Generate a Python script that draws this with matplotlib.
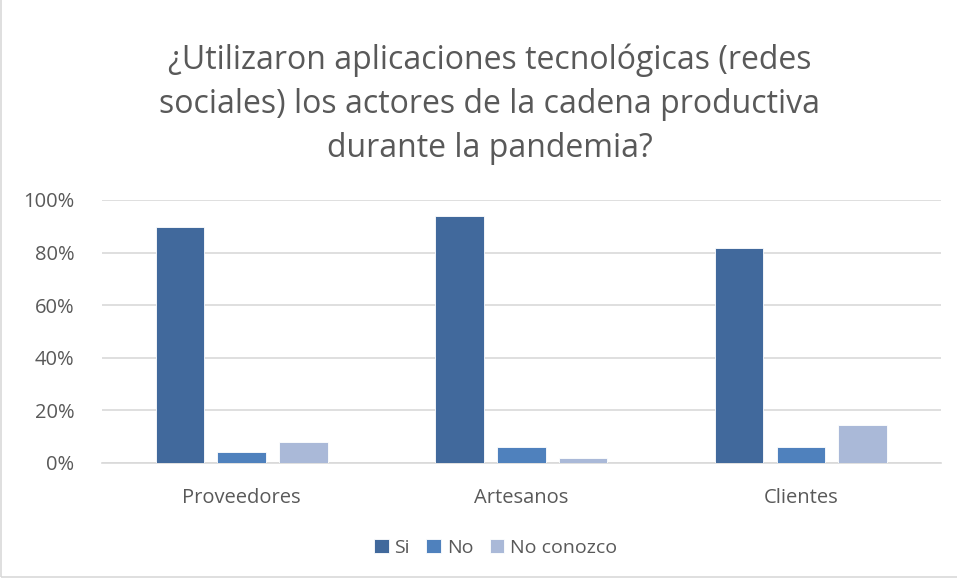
import numpy as np
import matplotlib.pyplot as plt
from matplotlib.ticker import PercentFormatter

categorias = ['Proveedores', 'Artesanos', 'Clientes']
series = ['Si', 'No', 'No conozco']
si = [0.896, 0.939, 0.816]
no = [0.04, 0.06, 0.06]
no_conozco = [0.08, 0.02, 0.143]
colores = ['#41699C', '#4F81BD', '#AAB9D8']

plt.rcParams['font.family'] = ['Open Sans', 'DejaVu Sans']
gris = '#595959'

fig = plt.figure(figsize=(9.57, 5.78), dpi=100)
ax = fig.add_axes([0.1065, 0.199, 0.8765, 0.455])

x = np.arange(len(categorias))
ancho = 0.174
paso = 0.221
for i, (nombre, vals) in enumerate(zip(series, [si, no, no_conozco])):
    ax.bar(x + (i - 1) * paso, vals, ancho, color=colores[i], label=nombre,
           edgecolor='white', linewidth=0.6, zorder=3)

ax.set_xlim(-0.5, 2.5)
ax.set_ylim(0, 1)
ax.set_yticks(np.arange(0, 1.01, 0.2))
ax.yaxis.set_major_formatter(PercentFormatter(1.0, decimals=0))
ax.set_xticks(x)
ax.set_xticklabels(categorias)
ax.grid(axis='y', color='#D9D9D9', linewidth=1.2, zorder=0)
for s in ['top', 'right', 'left']:
    ax.spines[s].set_visible(False)
ax.spines['bottom'].set_color('#D9D9D9')
ax.spines['bottom'].set_linewidth(1.2)
ax.tick_params(axis='both', length=0, labelsize=14.5, colors=gris, pad=20)
ax.tick_params(axis='x', pad=18)

fig.text(0.512, 0.82,
         '¿Utilizaron aplicaciones tecnológicas (redes\nsociales) los actores de la cadena productiva\ndurante la pandemia?',
         ha='center', va='center', fontsize=23, color=gris, linespacing=1.45)

fig.legend(loc='center', bbox_to_anchor=(0.518, 0.052), ncol=3, frameon=False,
           fontsize=14, labelcolor=gris, handlelength=0.75, handleheight=0.75,
           handletextpad=0.3, columnspacing=0.85)

borde = plt.Rectangle((0.001, 0.001), 1.2, 1.2, transform=fig.transFigure,
                      fill=False, edgecolor='#D9D9D9', linewidth=1.2)
fig.patches.append(borde)

fig.savefig('out.png', dpi=100)
